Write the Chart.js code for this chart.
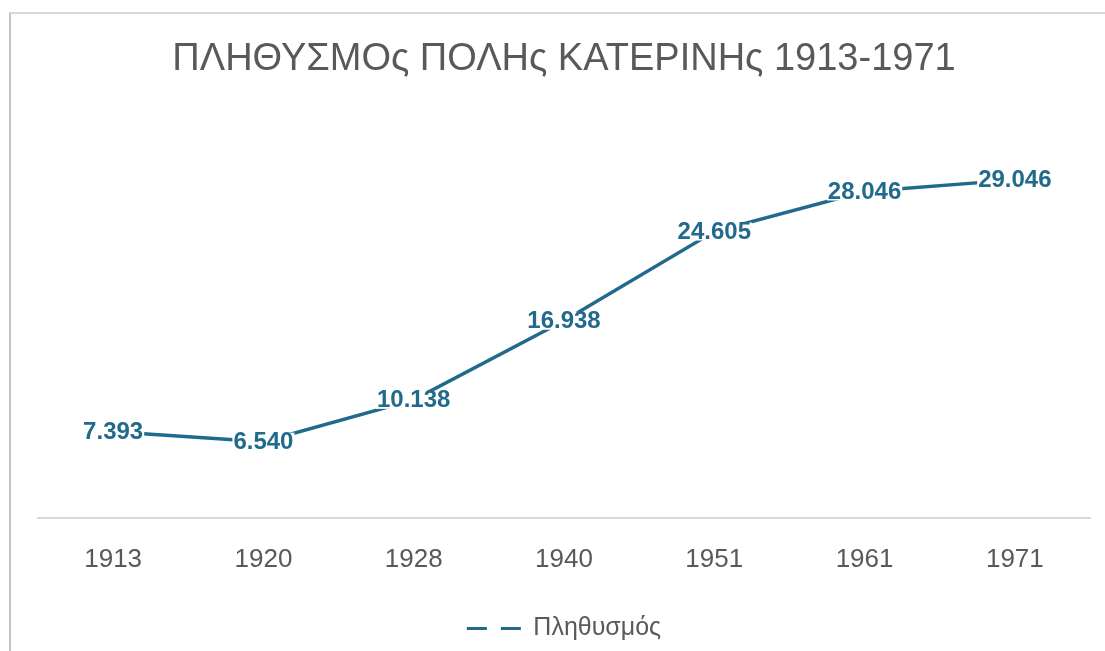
<!DOCTYPE html>
<html>
<head>
<meta charset="utf-8">
<script src="https://cdn.jsdelivr.net/npm/chart.js@4.4.1/dist/chart.umd.min.js"></script>
<style>
    html, body { margin: 0; padding: 0; background: #ffffff; }
    body { width: 1105px; height: 651px; position: relative; overflow: hidden; }
    .frame {
        position: absolute; left: 9px; top: 12px; width: 1096px; height: 639px;
        border-top: 2px solid #d9d9d9; border-left: 2px solid #c4c4c4; box-sizing: border-box;
    }
    .chart-box { position: absolute; left: 0; top: 0; width: 1105px; height: 651px; }
</style>
</head>
<body>
<div class="frame"></div>
<div class="chart-box"><canvas id="popChart"></canvas></div>
<script>
// Data
const years = ['1913', '1920', '1928', '1940', '1951', '1961', '1971'];
const population = [7393, 6540, 10138, 16938, 24605, 28046, 29046];
const chartTitle = 'ΠΛΗΘΥΣΜΟς ΠΟΛΗς ΚΑΤΕΡΙΝΗς 1913-1971';
const seriesName = 'Πληθυσμός';

const lineColor = '#216a8c';
const textGray = '#595959';
const fontFamily = "'Liberation Sans', Arial, sans-serif";

// thousands separator with a dot
function formatValue(v) {
    return String(v).replace(/\B(?=(\d{3})+(?!\d))/g, '.');
}

// Data labels centered on the points, on a white box
const pointLabels = {
    id: 'pointLabels',
    afterDatasetsDraw(chart) {
        const ctx = chart.ctx;
        const meta = chart.getDatasetMeta(0);
        ctx.save();
        ctx.font = 'bold 24px ' + fontFamily;
        ctx.textAlign = 'center';
        ctx.textBaseline = 'middle';
        meta.data.forEach((pt, i) => {
            const text = formatValue(chart.data.datasets[0].data[i]);
            const w = ctx.measureText(text).width;
            ctx.fillStyle = '#ffffff';
            ctx.fillRect(pt.x - w / 2 - 1, pt.y - 9, w + 2, 18);
            ctx.fillStyle = lineColor;
            ctx.fillText(text, pt.x, pt.y + 1);
        });
        ctx.restore();
    }
};

const popChart = new Chart(document.getElementById('popChart'), {
    type: 'line',
    data: {
        labels: years,
        datasets: [{
            label: seriesName,
            data: population,
            borderColor: lineColor,
            backgroundColor: lineColor,
            borderWidth: 3.5,
            pointRadius: 0,
            tension: 0
        }]
    },
    options: {
        responsive: true,
        maintainAspectRatio: false,
        animation: false,
        layout: {
            padding: { left: 38, right: 15, top: 14, bottom: 0 }
        },
        plugins: {
            title: {
                display: true,
                text: chartTitle,
                color: textGray,
                font: { family: fontFamily, size: 38, weight: 'normal' },
                padding: { top: 23, bottom: 28 }
            },
            legend: {
                display: true,
                position: 'bottom',
                labels: {
                    color: textGray,
                    font: { family: fontFamily, size: 25 },
                    boxWidth: 54,
                    boxHeight: 0,
                    generateLabels: (chart) => chart.data.datasets.map((ds, i) => ({
                        text: ds.label,
                        fillStyle: 'transparent',
                        strokeStyle: ds.borderColor,
                        lineWidth: 3,
                        // the box is a zero-height rect: keep the way back blank
                        lineDash: [20, 14, 20, 60],
                        fontColor: textGray,
                        datasetIndex: i
                    }))
                }
            },
            tooltip: { enabled: false }
        },
        scales: {
            x: {
                offset: true,
                grid: { display: false, drawTicks: false },
                border: { display: true, color: '#d9d9d9', width: 2 },
                ticks: {
                    color: textGray,
                    font: { family: fontFamily, size: 26 },
                    padding: 26
                },
                afterFit: (scale) => { scale.height += 5; }
            },
            y: {
                display: false,
                min: 0,
                max: 35000
            }
        }
    },
    plugins: [pointLabels]
});
</script>
</body>
</html>
